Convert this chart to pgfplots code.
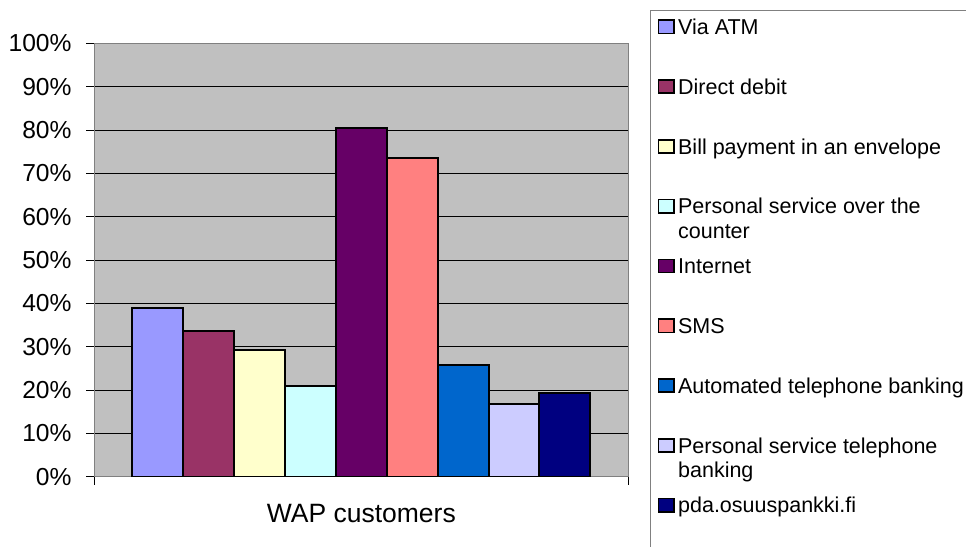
\documentclass[border=0pt]{standalone}
\usepackage{fontspec}
\setmainfont{Liberation Sans}
\usepackage{pgfplots}
\pgfplotsset{compat=1.18}

\definecolor{plotbg}{HTML}{C0C0C0}
\definecolor{framegray}{HTML}{808080}
\definecolor{cATM}{HTML}{9999FF}
\definecolor{cDebit}{HTML}{993366}
\definecolor{cBill}{HTML}{FFFFCC}
\definecolor{cCounter}{HTML}{CCFFFF}
\definecolor{cNet}{HTML}{660066}
\definecolor{cSMS}{HTML}{FF8080}
\definecolor{cAuto}{HTML}{0066CC}
\definecolor{cPhone}{HTML}{CCCCFF}
\definecolor{cPDA}{HTML}{000080}

\newcommand\tickfont{\fontsize{24.6}{29}\selectfont}
\newcommand\labfont{\fontsize{26.5}{31}\selectfont}
\newcommand\legfont{\fontsize{21.5}{24.4}\selectfont}

\begin{document}
\begin{tikzpicture}
\begin{axis}[
  at={(94.3pt,-476.7pt)}, anchor=south west,
  scale only axis, width=534pt, height=433.4pt,
  ybar=0pt, bar width=50.9pt,
  xmin=-0.5, xmax=0.5, ymin=0, ymax=100,
  xtick={-0.5,0.5}, xticklabels={},
  ytick={0,10,20,30,40,50,60,70,80,90,100},
  yticklabels={0\%,10\%,20\%,30\%,40\%,50\%,60\%,70\%,80\%,90\%,100\%},
  tick pos=left, tick align=outside, major tick length=8pt,
  every tick/.style={black, line width=0.8pt},
  ymajorgrids, major grid style={black, line width=0.8pt},
  axis background/.style={fill=plotbg},
  axis line style={draw=framegray, line width=1.5pt},
  yticklabel style={font=\tickfont, anchor=east, inner sep=0pt, xshift=-14.6pt},
  xlabel={WAP customers},
  xlabel style={font=\labfont, at={(axis description cs:0.5,0)}, anchor=base, yshift=-46pt},
  legend cell align=left,
  legend image code/.code={\draw[#1, line width=1.6pt] (0pt,-6.6pt) rectangle (15.6pt,6.6pt);},
  legend style={draw=none, fill=none, inner sep=0pt, outer sep=0pt,
    at={(1.05506,1.1073)}, anchor=north west, row sep=0pt, column sep=3.25pt,
    nodes={inner sep=0pt, outer sep=0pt, text height=37.6pt, text depth=22.2pt, font=\legfont}},
]
\addplot[fill=cATM, draw=black, line width=2pt] coordinates {(0,38.9)};
\addlegendentry{Via ATM}
\addplot[fill=cDebit, draw=black, line width=2pt] coordinates {(0,33.6)};
\addlegendentry{Direct debit}
\addplot[fill=cBill, draw=black, line width=2pt] coordinates {(0,29.2)};
\addlegendentry{Bill payment in an envelope}
\addplot[fill=cCounter, draw=black, line width=2pt] coordinates {(0,21.0)};
\addlegendentry{\parbox[t]{300pt}{Personal service over the\\counter}}
\addplot[fill=cNet, draw=black, line width=2pt] coordinates {(0,80.5)};
\addlegendentry{Internet}
\addplot[fill=cSMS, draw=black, line width=2pt] coordinates {(0,73.6)};
\addlegendentry{SMS}
\addplot[fill=cAuto, draw=black, line width=2pt] coordinates {(0,25.8)};
\addlegendentry{Automated telephone banking}
\addplot[fill=cPhone, draw=black, line width=2pt] coordinates {(0,16.7)};
\addlegendentry{\parbox[t]{300pt}{Personal service telephone\\banking}}
\addplot[fill=cPDA, draw=black, line width=2pt] coordinates {(0,19.3)};
\addlegendentry{pda.osuuspankki.fi}
\end{axis}
\draw[framegray, line width=1pt] (650.7pt,-10pt) rectangle (1000pt,-600pt);
\pgfresetboundingbox
\useasboundingbox (0,0) rectangle (966pt,-546pt);
\end{tikzpicture}
\end{document}
